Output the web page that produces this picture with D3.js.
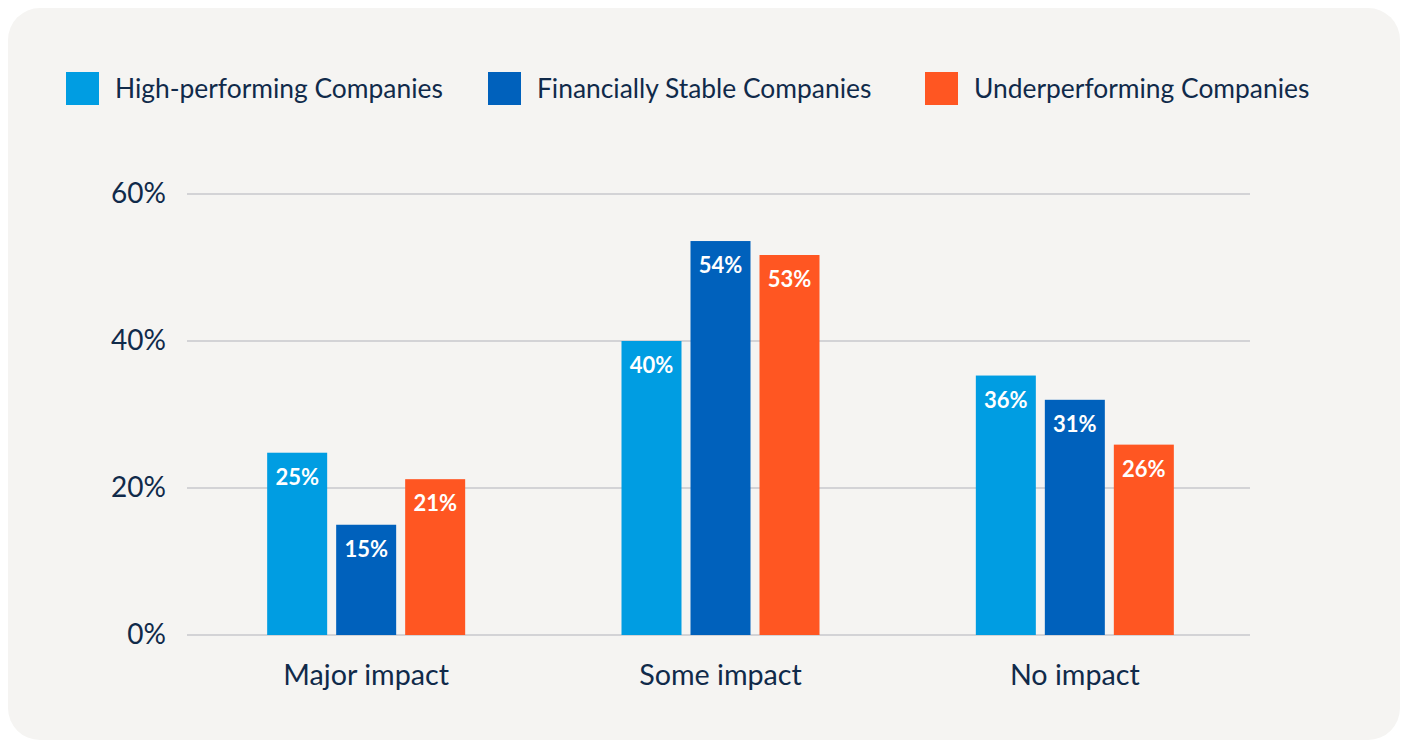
<!DOCTYPE html>
<html>
<head>
<meta charset="utf-8">
<script src="https://cdn.jsdelivr.net/npm/d3@7"></script>
<style>
  html, body { margin: 0; padding: 0; background: #fff; }
  svg { display: block; font-family: Lato, "Open Sans", sans-serif; }
</style>
</head>
<body>
<svg width="1404" height="740"></svg>
<script>
// chart data
var categories = ['Major impact', 'Some impact', 'No impact']
var seriesNames = ['High-performing Companies', 'Financially Stable Companies', 'Underperforming Companies']
var seriesColors = ['#009de2', '#0061bc', '#ff5622']
// bar heights as drawn, per series
var highPerforming = [24.8, 40, 35.3]
var financiallyStable = [15, 53.6, 32]
var underperforming = [21.2, 51.7, 25.9]
// labels printed on the bars
var highLabels = ['25%', '40%', '36%']
var stableLabels = ['15%', '54%', '31%']
var underLabels = ['21%', '53%', '26%']
var yTicks = [0, 20, 40, 60]

var series = [highPerforming, financiallyStable, underperforming]
var seriesLabels = [highLabels, stableLabels, underLabels]
var textColor = '#102a4a'

var svg = d3.select('svg')

// background panel
svg.append('rect')
    .attr('x', 8).attr('y', 8)
    .attr('width', 1392).attr('height', 732)
    .attr('rx', 32).attr('ry', 32)
    .attr('fill', '#f5f4f2')

// legend
var legendX = [66, 488, 925]
var legend = svg.append('g')
seriesNames.forEach(function(name, i) {
    legend.append('rect')
	.attr('x', legendX[i]).attr('y', 72)
	.attr('width', 33).attr('height', 33)
	.attr('fill', seriesColors[i])
    legend.append('text')
	.attr('x', legendX[i] + 49).attr('y', 98)
	.attr('font-size', 26.4)
	.attr('fill', textColor)
	.text(name)
})

// scales
var x0 = d3.scaleBand().domain(categories).range([189, 1252])
var y = d3.scaleLinear().domain([0, 60]).range([635, 194])
var barW = 60, gap = 9

// grid + y labels
var grid = svg.append('g')
yTicks.forEach(function(t) {
    grid.append('line')
	.attr('x1', 187).attr('x2', 1250)
	.attr('y1', y(t)).attr('y2', y(t))
	.attr('stroke', '#d3d3d6').attr('stroke-width', 2)
    grid.append('text')
	.attr('x', 166).attr('y', y(t) + 9)
	.attr('text-anchor', 'end')
	.attr('font-size', 28)
	.attr('fill', textColor)
	.text(t + '%')
})

// bars
var bars = svg.append('g')
categories.forEach(function(cat, ci) {
    var cx = x0(cat) + x0.bandwidth() / 2
    series.forEach(function(vals, si) {
	var bx = cx - barW / 2 + (si - 1) * (barW + gap)
	bars.append('rect')
	    .attr('x', bx).attr('y', y(vals[ci]))
	    .attr('width', barW).attr('height', y(0) - y(vals[ci]))
	    .attr('fill', seriesColors[si])
	bars.append('text')
	    .attr('x', bx + barW / 2).attr('y', y(vals[ci]) + 32)
	    .attr('text-anchor', 'middle')
	    .attr('font-size', 22)
	    .attr('font-weight', 'bold')
	    .attr('fill', '#fff')
	    .text(seriesLabels[si][ci])
    })
    svg.append('text')
	.attr('x', cx).attr('y', 685)
	.attr('text-anchor', 'middle')
	.attr('font-size', 28.7)
	.attr('fill', textColor)
	.text(cat)
})
</script>
</body>
</html>
